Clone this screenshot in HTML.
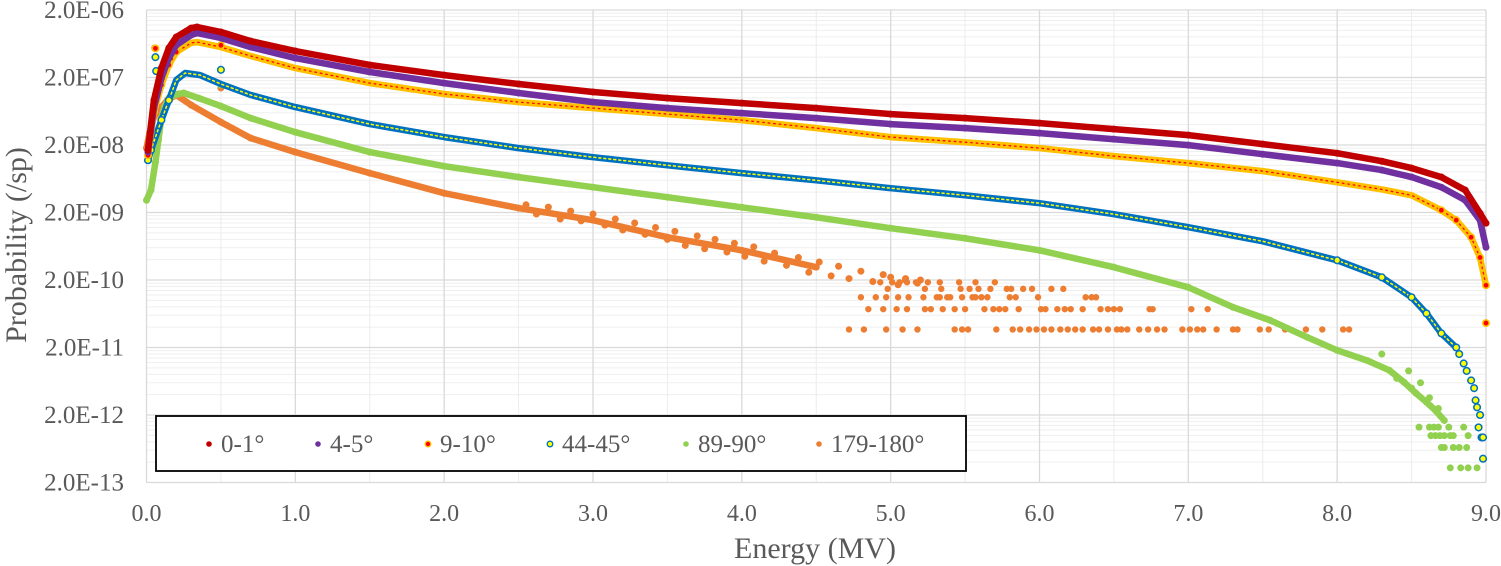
<!DOCTYPE html>
<html><head><meta charset="utf-8"><style>
html,body{margin:0;padding:0;background:#fff;}
svg{display:block;font-family:"Liberation Serif",serif;}
</style></head><body>
<svg id="chart" width="1501" height="566" viewBox="0 0 1501 566" xmlns="http://www.w3.org/2000/svg">
<g id="grid"></g>
<g id="series"></g>
<g id="axes"></g>
<text x="815" y="558" font-size="30" fill="#595959" text-anchor="middle">Energy (MV)</text>
<text transform="translate(26,245) rotate(-90)" font-size="30" fill="#595959" text-anchor="middle">Probability (/sp)</text>
<g>
<rect x="156" y="416" width="810" height="55" fill="#fff" stroke="#000" stroke-width="1.8"/>
<g id="legend-entries"></g>
</g>
</svg>
<script>
// ---- data (energy in MV, probability /sp) ----
const xTicks=[0,1,2,3,4,5,6,7,8,9];
const yTickLabels=["2.0E-06","2.0E-07","2.0E-08","2.0E-09","2.0E-10","2.0E-11","2.0E-12","2.0E-13"];
const seriesNames=["0-1°","4-5°","9-10°","44-45°","89-90°","179-180°"];

const e01=[0.01,0.05,0.1,0.15,0.2,0.3,0.34,0.5,0.7,1.0,1.5,2.0,2.5,3.0,3.5,4.0,4.5,5.0,5.5,6.0,6.5,7.0,7.5,8.0,8.3,8.5,8.7,8.86,8.96,9.0];
const v01=[1.68e-8,9.2e-8,2.76e-7,5.46e-7,7.96e-7,1.08e-6,1.12e-6,9.44e-7,6.93e-7,4.93e-7,3.06e-7,2.17e-7,1.6e-7,1.22e-7,9.9e-8,8.36e-8,7.05e-8,5.74e-8,5.0e-8,4.22e-8,3.44e-8,2.8e-8,2.06e-8,1.51e-8,1.15e-8,9.1e-9,6.7e-9,4.3e-9,1.95e-9,1.39e-9];

const e45=[0.01,0.05,0.1,0.15,0.2,0.3,0.34,0.5,0.7,1.0,1.5,2.0,2.5,3.0,3.5,4.0,4.5,5.0,5.5,6.0,6.5,7.0,7.5,8.0,8.3,8.5,8.7,8.86,8.96,9.0];
const v45=[1.57e-8,7.05e-8,1.96e-7,3.88e-7,6.06e-7,8.5e-7,9.1e-7,7.7e-7,5.65e-7,3.88e-7,2.41e-7,1.65e-7,1.18e-7,8.65e-8,7.05e-8,5.94e-8,5.0e-8,4.08e-8,3.56e-8,3.0e-8,2.44e-8,1.99e-8,1.46e-8,1.08e-8,8.5e-9,6.7e-9,4.74e-9,3.04e-9,1.54e-9,6.1e-10];

const e910=[0.01,0.05,0.1,0.15,0.2,0.3,0.34,0.5,0.7,1.0,1.5,2.0,2.5,3.0,3.5,4.0,4.5,5.0,5.5,6.0,6.5,7.0,7.5,8.0,8.3,8.5,8.7,8.8,8.9,8.96,9.0];
const v910=[1.41e-8,6.14e-8,1.55e-7,3.06e-7,4.76e-7,6.5e-7,6.7e-7,5.65e-7,4.16e-7,2.76e-7,1.65e-7,1.14e-7,8.65e-8,7.05e-8,5.74e-8,4.68e-8,3.56e-8,2.62e-8,2.2e-8,1.8e-8,1.37e-8,1.08e-8,8.2e-9,5.6e-9,4.4e-9,3.6e-9,2.16e-9,1.54e-9,8.6e-10,4.3e-10,1.67e-10];
const e910x=[0.06,0.5,9.0];
const v910x=[5.4e-7,6.0e-7,4.6e-11];

const e4445=[0.01,0.03,0.1,0.15,0.2,0.26,0.36,0.5,0.7,1.0,1.5,2.0,2.5,3.0,3.5,4.0,4.5,5.0,5.5,6.0,6.5,7.0,7.5,8.0,8.3,8.5,8.6,8.7,8.8];
const v4445=[1.19e-8,1.68e-8,4.68e-8,9.2e-8,1.83e-7,2.33e-7,2.17e-7,1.6e-7,1.1e-7,7.28e-8,4.08e-8,2.62e-8,1.8e-8,1.32e-8,1.0e-8,7.66e-9,6.0e-9,4.58e-9,3.6e-9,2.75e-9,1.89e-9,1.21e-9,7.5e-10,3.92e-10,2.19e-10,1.11e-10,6.4e-11,3.24e-11,2.0e-11];
const e4445x=[0.06,0.065,0.5,8.82,8.85,8.87,8.9,8.92,8.93,8.94,8.95,8.96,8.97,8.98,8.98];
const v4445x=[4.0e-7,2.49e-7,2.6e-7,1.6e-11,1.16e-11,9e-12,6.5e-12,5e-12,3.3e-12,2.6e-12,1.31e-12,2.0e-12,9.3e-13,9.3e-13,4.5e-13];

const e8990=[0.0,0.03,0.06,0.08,0.1,0.12,0.15,0.21,0.25,0.35,0.5,0.7,1.0,1.5,2.0,2.5,3.0,3.5,4.0,4.5,5.0,5.5,6.0,6.5,7.0,7.3,7.55,7.8,8.0,8.2,8.35,8.45,8.53,8.6,8.66,8.72];
const v8990=[3.04e-9,4.3e-9,1.11e-8,2.36e-8,5.0e-8,7.28e-8,9.9e-8,1.14e-7,1.18e-7,9.9e-8,7.54e-8,5.0e-8,3.1e-8,1.57e-8,9.7e-9,6.7e-9,4.74e-9,3.37e-9,2.39e-9,1.7e-9,1.17e-9,8.3e-10,5.5e-10,3.1e-10,1.56e-10,7.9e-11,5.06e-11,2.83e-11,1.82e-11,1.29e-11,9.2e-12,6.1e-12,4.2e-12,3.1e-12,2.34e-12,1.66e-12];
const e8990x=[0.5,8.3,8.4,8.48,8.5,8.56,8.62,8.68,8.55,8.62,8.65,8.68,8.75,8.85,8.63,8.66,8.69,8.72,8.76,8.78,8.88,8.70,8.72,8.78,8.82,8.87,8.76,8.83,8.88,8.94];
const v8990x=[1.55e-7,1.6e-11,7e-12,9e-12,5e-12,6e-12,3.6e-12,2.5e-12,1.32e-12,1.32e-12,1.32e-12,1.32e-12,1.32e-12,1.32e-12,9.9e-13,9.9e-13,9.9e-13,9.9e-13,9.9e-13,9.9e-13,9.9e-13,6.6e-13,6.6e-13,6.6e-13,6.6e-13,6.6e-13,3.3e-13,3.3e-13,3.3e-13,3.3e-13];

const e179=[0.0,0.02,0.05,0.1,0.14,0.2,0.3,0.5,0.7,1.0,1.5,2.0,2.5,3.0,3.5,4.0,4.5];
const v179=[1.8e-8,3.0e-8,5.18e-8,7.28e-8,9.2e-8,1.1e-7,7.8e-8,4.37e-8,2.53e-8,1.57e-8,7.66e-9,3.86e-9,2.32e-9,1.54e-9,8.6e-10,5.5e-10,3.1e-10];
const e179x=[0.055,0.5,2.55,2.62,2.7,2.78,2.85,2.92,3.0,3.08,3.15,3.2,3.28,3.35,3.42,3.5,3.55,3.62,3.7,3.75,3.82,3.9,3.95,4.02,4.08,4.15,4.22,4.3,4.38,4.45,4.52,4.6,4.65,4.72,4.8,4.88,4.95,5.05,5.1,5.18,5.0,5.1,5.2];
const v179x=[5.46e-7,1.4e-7,2.6e-9,1.9e-9,2.4e-9,1.6e-9,2.1e-9,1.5e-9,1.9e-9,1.3e-9,1.6e-9,1.1e-9,1.4e-9,9.5e-10,1.2e-9,8e-10,1.05e-9,6.5e-10,9e-10,5.8e-10,8e-10,5.2e-10,7e-10,4.5e-10,6.2e-10,3.8e-10,5e-10,3.3e-10,4.3e-10,2.6e-10,3.7e-10,2.3e-10,3.2e-10,2.1e-10,2.7e-10,1.9e-10,2.4e-10,1.7e-10,2.0e-10,1.8e-10,2.2e-10,2.1e-10,2.0e-10];
// quantized tail (counts x unit 3.7e-11)
const e179c1=[4.72,4.82,4.97,5.08,5.18,5.43,5.48,5.52,5.71,5.82,5.87,5.93,5.98,6.03,6.08,6.14,6.19,6.24,6.29,6.36,6.40,6.46,6.52,6.55,6.59,6.67,6.73,6.79,6.84,6.96,7.01,7.06,7.10,7.19,7.30,7.33,7.48,7.54,7.65,7.79,7.90,8.04,8.08];
const e179c2=[4.85,4.95,5.04,5.11,5.23,5.27,5.35,5.43,5.50,5.63,5.69,5.73,5.77,5.86,6.01,6.04,6.12,6.17,6.21,6.29,6.41,6.46,6.50,6.54,6.74,6.76,7.02,7.13];
const e179c3=[4.8,4.9,4.97,5.05,5.12,5.22,5.31,5.33,5.38,5.40,5.48,5.55,5.57,5.61,5.65,5.80,5.84,5.99,6.31,6.35,6.38];
const e179c4=[4.98,5.23,5.34,5.47,5.53,5.59,5.67,5.78,5.81,5.89,5.95,6.08,6.16];
const e179c5=[4.93,5.01,5.06,5.11,5.17,5.25,5.33,5.46,5.57,5.70];
const countUnit179=3.7e-11;

// ---- axes ----
const L=146.5,R=1486,T=10,B=482.5;
const yMax=2e-6,yDecades=7;
function X(e){return L+(e/9)*(R-L);}
function Y(v){return T+(Math.log10(yMax)-Math.log10(v))/yDecades*(B-T);}
const NS="http://www.w3.org/2000/svg";
function mk(tag,attrs,parent){const el=document.createElementNS(NS,tag);for(const k in attrs)el.setAttribute(k,attrs[k]);parent.appendChild(el);return el;}

const grid=document.getElementById('grid');
for(let d=0;d<yDecades;d++){
  const base=yMax*Math.pow(10,-d-1);
  for(let m=2;m<=9;m++){
    const ln=mk('line',{x1:L,x2:R,y1:Y(base*m),y2:Y(base*m),stroke:'#efefef','stroke-width':1},grid);
    
    
  }
}
for(let i=0;i<18;i++){
  const xx=X(i*0.5+0.5);
  if(i%2===0){const ln=mk('line',{x1:xx,x2:xx,y1:T,y2:B,stroke:'#ececec','stroke-width':1},grid);
  
  }
}
yTickLabels.forEach((lab,i)=>{
  const v=yMax*Math.pow(10,-i);
  const ln=mk('line',{x1:L,x2:R,y1:Y(v),y2:Y(v),stroke:'#d9d9d9','stroke-width':1.3},grid);
  
  
});
xTicks.forEach(t=>{
  const ln=mk('line',{x1:X(t),x2:X(t),y1:T,y2:B,stroke:'#d9d9d9','stroke-width':1.3},grid);
  
  
});

const axes=document.getElementById('axes');
yTickLabels.forEach((lab,i)=>{
  const v=yMax*Math.pow(10,-i);
  const t=mk('text',{x:124,y:Y(v)+8,'font-size':25,fill:'#595959','text-anchor':'end'},axes);
  t.textContent=lab;
  
  
});
xTicks.forEach(tk=>{
  const t=mk('text',{x:X(tk),y:521,'font-size':24,fill:'#595959','text-anchor':'middle'},axes);
  t.textContent=tk.toFixed(1);
  
  
});

// ---- series ----
const S=document.getElementById('series');
function pts(es,vs){return es.map((e,i)=>X(e).toFixed(1)+','+Y(vs[i]).toFixed(1)).join(' ');}
function band(es,vs,color,w,name){
  const p=mk('polyline',{points:pts(es,vs),fill:'none',stroke:color,'stroke-width':w,'stroke-linejoin':'round','stroke-linecap':'round'},S);
  
  
  return p;
}
function dots(es,vs,fill,r,name,stroke,sw){
  es.forEach((e,i)=>{
    const c=mk('circle',{cx:X(e),cy:Y(vs[i]),r:r,fill:fill},S);
    if(stroke){c.setAttribute('stroke',stroke);c.setAttribute('stroke-width',sw);}
    
    
  });
}
// 179-180
band(e179,v179,'#ED7D31',6.5,'series-179-180-band');
dots(e179,v179,'#ED7D31',3.5,'point-179-180');
dots(e179x,v179x,'#ED7D31',3.5,'point-179-180');
[e179c1,e179c2,e179c3,e179c4,e179c5].forEach((arr,k)=>{
  dots(arr,arr.map(()=>countUnit179*(k+1)),'#ED7D31',3.2,'point-179-180-tail');
});
// 89-90
band(e8990,v8990,'#92D050',6.5,'series-89-90-band');
dots(e8990,v8990,'#92D050',3.5,'point-89-90');
dots(e8990x,v8990x,'#92D050',3.5,'point-89-90');
// 44-45
band(e4445,v4445,'#0070C0',6.5,'series-44-45-band');
const yl=band(e4445,v4445,'#FFFF00',1.5,'series-44-45-centre');
yl.setAttribute('stroke-dasharray','2 3');
dots(e4445.slice(-6),v4445.slice(-6),'#FFFF00',3.3,'point-44-45','#0070C0',1.5);
dots(e4445x,v4445x,'#FFFF00',3.3,'point-44-45','#0070C0',1.5);
dots(e4445.slice(0,4),v4445.slice(0,4),'#FFFF00',3.3,'point-44-45','#0070C0',1.5);
// 9-10
band(e910,v910,'#FFC000',6.5,'series-9-10-band');
const rl=band(e910,v910,'#FF0000',1.3,'series-9-10-centre');
rl.setAttribute('stroke-dasharray','1.5 4');
dots(e910.slice(-5),v910.slice(-5),'#FF0000',3.2,'point-9-10','#FFC000',1.6);
dots(e910x,v910x,'#FF0000',3.2,'point-9-10','#FFC000',1.6);
dots(e910.slice(0,5),v910.slice(0,5),'#FF0000',3.2,'point-9-10','#FFC000',1.6);
// 4-5
band(e45,v45,'#7030A0',6.5,'series-4-5-band');
dots(e45,v45,'#7030A0',3.5,'point-4-5');
// 0-1
band(e01,v01,'#C00000',6.5,'series-0-1-band');
dots(e01,v01,'#C00000',3.5,'point-0-1');

// ---- legend ----
const LG=document.getElementById('legend-entries');
const legX=[209,318,428,550,686,819];
const legC=[['#C00000'],['#7030A0'],['#FF0000','#FFC000'],['#FFFF00','#0070C0'],['#92D050'],['#ED7D31']];
seriesNames.forEach((n,i)=>{
  const g=mk('g',{},LG);
  
  
  const c=legC[i];
  const m=mk('circle',{cx:legX[i],cy:444,r:2.8,fill:c[0]},g);
  if(c[1]){m.setAttribute('stroke',c[1]);m.setAttribute('stroke-width',1.3);}
  
  
  const t=mk('text',{x:legX[i]+12,y:452,'font-size':25,fill:'#595959'},g);
  t.textContent=n;
  
  
});
</script>
</body></html>
